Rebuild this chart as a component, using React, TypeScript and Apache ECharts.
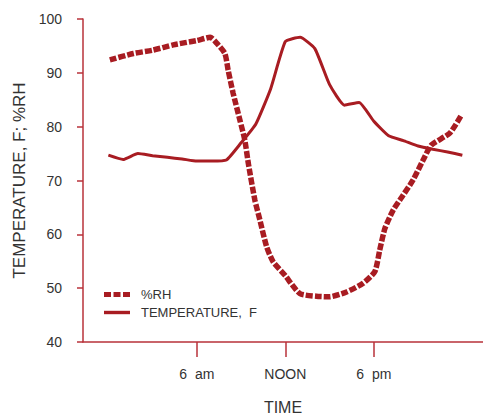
import React, { useEffect, useRef } from "react";
import * as echarts from "echarts";

const tempHours = [0, 1, 2, 3, 4, 5, 6, 7, 8, 9, 10, 11, 12, 13, 14, 15, 16, 17, 18, 19, 20, 21, 22, 23, 24];
const tempValues = [74.7, 73.9, 75.0, 74.6, 74.3, 74.0, 73.6, 73.6, 73.8, 77.0, 80.5, 87.0, 95.8, 96.6, 94.5, 87.8, 84.0, 84.5, 81.0, 78.3, 77.4, 76.4, 75.8, 75.3, 74.7];

const rhHours = [0.1, 1.7, 3.0, 4.4, 6.0, 6.9, 7.35, 7.9, 8.12, 8.46, 8.92, 9.25, 9.5, 9.93, 10.27, 10.73, 11.17, 11.97, 12.98, 14.1, 15.0, 16.15, 17.27, 18.07, 18.4, 18.75, 19.31, 19.99, 20.66, 21.34, 21.9, 23.15, 23.95];
const rhValues = [92.4, 93.6, 94.2, 95.2, 96.0, 96.6, 95.5, 93.6, 90.5, 86.2, 81.2, 77.5, 73.0, 66.4, 62.7, 57.7, 54.9, 52.4, 49.0, 48.5, 48.4, 49.3, 50.9, 53.1, 57.1, 61.1, 64.5, 67.3, 70.1, 73.8, 76.6, 78.8, 82.2];

const xTickValues = [6, 12, 18];
const xTickLabels = ["6  am", "NOON", "6  pm"];

const RED = "#a81c22";
const AXIS = "#b8323a";
const TEXT = "#333333";
const FONT = "Liberation Sans";

export default function App() {
  const ref = useRef<HTMLDivElement>(null);
  useEffect(() => {
    if (!ref.current) return;
    const chart = echarts.init(ref.current, undefined, { renderer: "svg" });
    chart.setOption({
      animation: false,
      backgroundColor: "#ffffff",
      grid: { left: 83, top: 19, right: 0, bottom: 75, containLabel: false, outerBoundsMode: "none" },
      legend: {
        left: 99,
        top: 283,
        orient: "vertical",
        itemWidth: 26,
        itemHeight: 5,
        itemGap: 5,
        textStyle: { color: TEXT, fontFamily: FONT, fontSize: 13, padding: [0, 0, 0, 6] },
        data: [
          { name: "%RH", icon: "path://M0,0h7v5h-7z M9.5,0h7v5h-7z M19,0h7v5h-7z", itemStyle: { color: RED } },
          { name: "TEMPERATURE,  F", icon: "path://M0,0.8h26v3.4h-26z", itemStyle: { color: RED } },
        ],
      },
      xAxis: {
        type: "value",
        min: -1.72,
        max: 25.4,
        name: "TIME",
        nameLocation: "middle",
        nameGap: 57,
        nameTextStyle: { color: TEXT, fontFamily: FONT, fontSize: 16 },
        splitLine: { show: false },
        axisLine: { onZero: false, lineStyle: { color: AXIS, width: 1.5 } },
        axisTick: { customValues: xTickValues, length: 15, lineStyle: { color: AXIS, width: 1.5 } },
        axisLabel: {
          customValues: xTickValues,
          margin: 25,
          color: TEXT,
          fontFamily: FONT,
          fontSize: 14,
          formatter: (v: number) => xTickLabels[xTickValues.indexOf(v)] ?? "",
        },
      },
      yAxis: {
        type: "value",
        min: 40,
        max: 100,
        interval: 10,
        name: "TEMPERATURE, F; %RH",
        nameLocation: "middle",
        nameGap: 54,
        nameTextStyle: { color: TEXT, fontFamily: FONT, fontSize: 17 },
        splitLine: { show: false },
        axisLine: { show: true, onZero: false, lineStyle: { color: AXIS, width: 1.5 } },
        axisTick: { show: true, length: 6, lineStyle: { color: AXIS, width: 1.5 } },
        axisLabel: { margin: 21, color: TEXT, fontFamily: FONT, fontSize: 14 },
      },
      series: [
        {
          name: "%RH",
          type: "line",
          showSymbol: false,
          symbol: "none",
          smooth: 0.2,
          data: rhHours.map((h, i) => [h, rhValues[i]]),
          lineStyle: { color: RED, width: 5.5, type: [7, 2] },
          itemStyle: { color: RED },
        },
        {
          name: "TEMPERATURE,  F",
          type: "line",
          showSymbol: false,
          symbol: "none",
          smooth: 0.15,
          data: tempHours.map((h, i) => [h, tempValues[i]]),
          lineStyle: { color: RED, width: 3 },
          itemStyle: { color: RED },
        },
      ],
    });
    return () => chart.dispose();
  }, []);
  return (
    <div
      ref={ref}
      style={{ position: "fixed", left: 0, top: 0, width: 483, height: 417, background: "#fff" }}
    />
  );
}
